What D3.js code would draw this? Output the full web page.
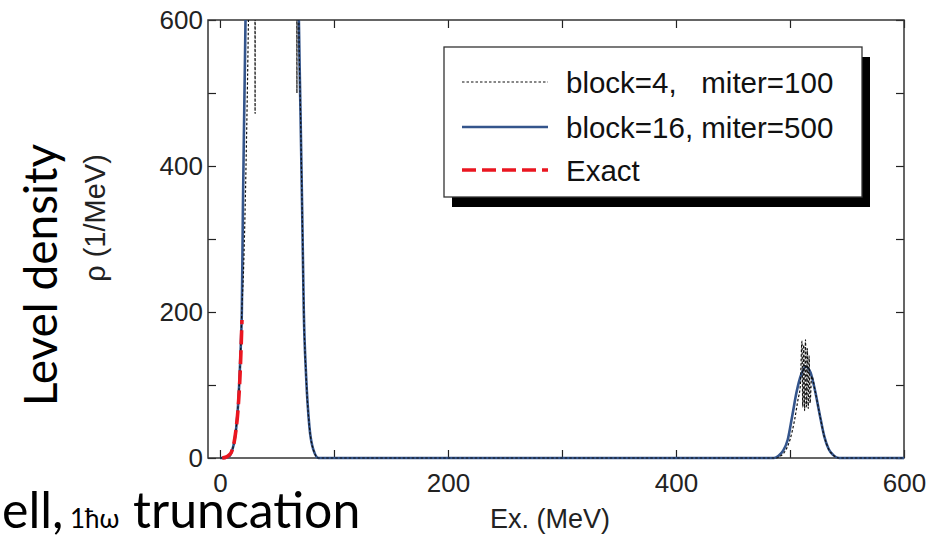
<!DOCTYPE html>
<html>
<head>
<meta charset="utf-8">
<script src="https://cdn.jsdelivr.net/npm/d3@7"></script>
<style>
  body { margin: 0; background: #fff; }
  svg { display: block; }
  text { white-space: pre; }
</style>
</head>
<body>
<svg id="chart" width="936" height="536"></svg>
<script>
// Level density rho(Ex) from block Lanczos runs compared with the exact density.

// block=16, miter=500 (solid)
const block16E   = [0, 5, 7, 9, 10.8, 12.5, 14.3, 16, 17.2, 18.3, 19.2, 20.1, 21.3, 22.4, 24, 27, 35, 45, 55, 62, 66, 68, 69.2, 70.6, 72.1, 73.5, 75.6, 78.5, 82, 86.4, 150, 300, 450, 486, 490, 494, 498, 502, 506, 510, 514, 518, 522, 526, 530, 534, 538, 543, 600];
const block16Rho = [0, 0.2, 1.5, 4, 11, 22, 42, 75, 111, 155, 203, 340, 477, 600, 800, 1200, 2500, 3500, 3000, 1800, 1100, 780, 600, 477, 340, 203, 111, 42, 11, 0, 0, 0, 0, 0, 3, 10, 25, 58, 92, 115, 125, 117, 92, 60, 30, 12, 4, 0, 0];

// block=4, miter=100 (dotted)
const block4E   = [0, 5, 7, 9, 10.8, 12.5, 14.3, 16, 17.2, 18.3, 19.2, 20.5, 21.9, 23.2, 24.5, 25.8, 27.8, 30.3, 30.8, 31.3, 35, 45, 55, 62, 65, 67.0, 67.5, 68.0, 69.2, 70.6, 72.1, 73.5, 75.6, 78.5, 82, 86.4, 150, 300, 450, 488, 492, 496, 500, 504, 507, 509, 510.5, 511.2, 512, 512.8, 513.6, 514.4, 515.2, 516, 516.8, 517.6, 519, 522, 526, 530, 534, 538, 543, 600];
const block4Rho = [0, 0.2, 1.5, 4, 11, 22, 42, 75, 111, 155, 203, 250, 330, 430, 550, 700, 1100, 2000, 472, 2000, 2500, 3500, 3000, 1800, 1200, 2000, 500, 2000, 600, 477, 340, 203, 111, 42, 11, 0, 0, 0, 0, 0, 3, 10, 25, 52, 80, 98, 160, 70, 155, 65, 162, 70, 150, 68, 140, 75, 112, 92, 60, 30, 12, 4, 0, 0];

// Exact (dashed)
const exactE   = [2, 5, 8, 10, 12, 14, 16, 17.5, 18.5, 19.3];
const exactRho = [0, 1, 4, 8, 18, 38, 70, 110, 150, 189];

const xTicks = [0, 100, 200, 300, 400, 500, 600];
const xTickLabels = ["0", "", "200", "", "400", "", "600"];
const yTicks = [0, 100, 200, 300, 400, 500, 600];
const yTickLabels = ["0", "", "200", "", "400", "", "600"];

const seriesNames = ["block=4,   miter=100", "block=16, miter=500", "Exact"];

const svg = d3.select("#chart");
const plotL = 208, plotR = 904, plotT = 20, plotB = 458;

const x = d3.scaleLinear().domain([-10.5, 600]).range([plotL, plotR]);
const y = d3.scaleLinear().domain([0, 600]).range([plotB, plotT]);

const chartFont = "'Liberation Sans', Arial, sans-serif";
const slideFont = "Lato, 'Open Sans', sans-serif";

// clip for curves (a hair below the axis so the flat baseline shows)
svg.append("defs").append("clipPath").attr("id", "plotClip")
  .append("rect").attr("x", plotL).attr("y", plotT)
  .attr("width", plotR - plotL).attr("height", plotB - plotT + 2);

// axes with inward ticks
function styleAxis(g) {
  g.select(".domain").remove();
  g.selectAll(".tick line").attr("stroke", "#222").attr("stroke-width", 1.2);
  g.selectAll(".tick text").attr("fill", "#222").attr("font-family", chartFont).attr("font-size", 26);
}
svg.append("g").attr("transform", `translate(0,${plotB})`)
  .call(d3.axisBottom(x).tickValues(xTicks).tickSize(-8).tickPadding(16)
    .tickFormat((d, i) => xTickLabels[i])).call(styleAxis);
svg.append("g").attr("transform", `translate(0,${plotT})`)
  .call(d3.axisTop(x).tickValues(xTicks).tickSize(-8).tickFormat(() => "")).call(styleAxis);
svg.append("g").attr("transform", `translate(${plotL},0)`)
  .call(d3.axisLeft(y).tickValues(yTicks).tickSize(-8).tickPadding(5)
    .tickFormat((d, i) => yTickLabels[i])).call(styleAxis);
svg.append("g").attr("transform", `translate(${plotR},0)`)
  .call(d3.axisRight(y).tickValues(yTicks).tickSize(-8).tickFormat(() => "")).call(styleAxis);

// frame
svg.append("rect").attr("x", plotL).attr("y", plotT)
  .attr("width", plotR - plotL).attr("height", plotB - plotT)
  .attr("fill", "none").attr("stroke", "#333").attr("stroke-width", 1.5);

const line = d3.line().x(d => x(d[0])).y(d => y(d[1])).curve(d3.curveMonotoneX);
const plot = svg.append("g").attr("clip-path", "url(#plotClip)");

const styles = [
  { stroke: "#111", width: 1.2, dash: "2.5,2" },
  { stroke: "#34558c", width: 2.6, dash: null },
  { stroke: "#ea1620", width: 3.6, dash: "14,6" }
];

plot.append("path").datum(d3.zip(block16E, block16Rho)).attr("d", line)
  .attr("fill", "none").attr("stroke", styles[1].stroke).attr("stroke-width", styles[1].width);
plot.append("path").datum(d3.zip(block4E, block4Rho)).attr("d", line)
  .attr("fill", "none").attr("stroke", styles[0].stroke).attr("stroke-width", styles[0].width)
  .attr("stroke-dasharray", styles[0].dash);
plot.append("path").datum(d3.zip(exactE, exactRho)).attr("d", line)
  .attr("fill", "none").attr("stroke", styles[2].stroke).attr("stroke-width", styles[2].width)
  .attr("stroke-dasharray", styles[2].dash);

// legend with drop shadow
const lg = svg.append("g");
lg.append("rect").attr("x", 452).attr("y", 57).attr("width", 418).attr("height", 150).attr("fill", "#000");
lg.append("rect").attr("x", 444).attr("y", 47).attr("width", 418).attr("height", 150)
  .attr("fill", "#fff").attr("stroke", "#333").attr("stroke-width", 1.3);
const rowY = [82, 127, 170];
seriesNames.forEach((name, i) => {
  lg.append("line").attr("x1", 462).attr("x2", 548).attr("y1", rowY[i]).attr("y2", rowY[i])
    .attr("stroke", styles[i].stroke).attr("stroke-width", styles[i].width)
    .attr("stroke-dasharray", styles[i].dash);
  lg.append("text").attr("x", 566).attr("y", rowY[i]).attr("dy", "0.36em")
    .attr("font-family", chartFont).attr("font-size", 29.5).attr("fill", "#111").text(name);
});

// axis titles
svg.append("text").attr("x", 550).attr("y", 528).attr("text-anchor", "middle")
  .attr("font-family", chartFont).attr("font-size", 27).attr("fill", "#222").text("Ex. (MeV)");
svg.append("text").attr("transform", "translate(105,218) rotate(-90)").attr("text-anchor", "middle")
  .attr("font-family", chartFont).attr("font-size", 29).attr("fill", "#222").text("ρ (1/MeV)");

svg.append("text").attr("transform", "translate(57,275) rotate(-90)").attr("text-anchor", "middle")
  .attr("font-family", slideFont).attr("font-size", 46).attr("fill", "#000").text("Level density");

// slide caption along the bottom
const cap = svg.append("text").attr("y", 528)
  .attr("font-family", slideFont).attr("font-size", 50).attr("fill", "#000");
cap.append("tspan").attr("x", 2).text("ell,");
cap.append("tspan").attr("x", 70).attr("font-size", 26).text("1ħω");
cap.append("tspan").attr("x", 133).text("truncation");
</script>
</body>
</html>
